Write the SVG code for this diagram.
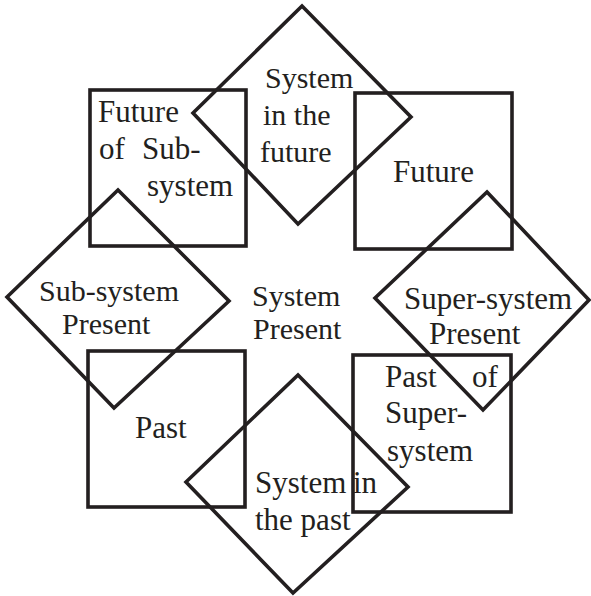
<svg xmlns="http://www.w3.org/2000/svg" width="591" height="596" viewBox="0 0 591 596">
<style>
.s{fill:none;stroke:#231f20;stroke-width:3.6;stroke-linejoin:miter}
text{font-family:"Liberation Serif","Times New Roman",serif;font-size:31px;fill:#231f20}
.t{font-size:30px}
</style>
<rect width="591" height="596" fill="#fff"/>
<g id="future-of-subsystem">
<rect class="s" x="90" y="90" width="156" height="156"/>
<text><tspan x="98" y="122">Future</tspan><tspan x="99" y="159">of</tspan><tspan x="142" y="159">Sub-</tspan><tspan x="147" y="196">system</tspan></text>
</g>
<g id="future">
<rect class="s" x="355" y="93" width="157" height="156"/>
<text x="393" y="182">Future</text>
</g>
<g id="past">
<rect class="s" x="88" y="351" width="157" height="156"/>
<text x="135" y="438">Past</text>
</g>
<g id="past-of-supersystem">
<rect class="s" x="353" y="355" width="158" height="157"/>
<text><tspan x="385" y="387">Past</tspan><tspan x="472" y="387">of</tspan><tspan x="385" y="423">Super-</tspan><tspan x="387" y="461">system</tspan></text>
</g>
<g id="system-in-the-future">
<polygon class="s" points="302,6 411,117 298,224 193,113"/>
<text class="t"><tspan x="265" y="88">System</tspan><tspan x="263" y="125">in the</tspan><tspan x="260" y="162">future</tspan></text>
</g>
<g id="supersystem-present">
<polygon class="s" points="487,192 589,300 483,410 375,298"/>
<text style="font-size:31px"><tspan x="404" y="309">Super-system</tspan><tspan x="429" y="344">Present</tspan></text>
</g>
<g id="subsystem-present">
<polygon class="s" points="118,190 229,301 114,408 7,297"/>
<text class="t"><tspan x="39" y="301">Sub-system</tspan><tspan x="62" y="334">Present</tspan></text>
</g>
<g id="system-in-the-past">
<polygon class="s" points="298,375 408,487 293,593 186,482"/>
<text><tspan x="255" y="493">System</tspan><tspan x="353" y="493">in</tspan><tspan x="255" y="530">the past</tspan></text>
</g>
<g id="system-present">
<text class="t"><tspan x="252" y="306">System</tspan><tspan x="253" y="339">Present</tspan></text>
</g>
</svg>
